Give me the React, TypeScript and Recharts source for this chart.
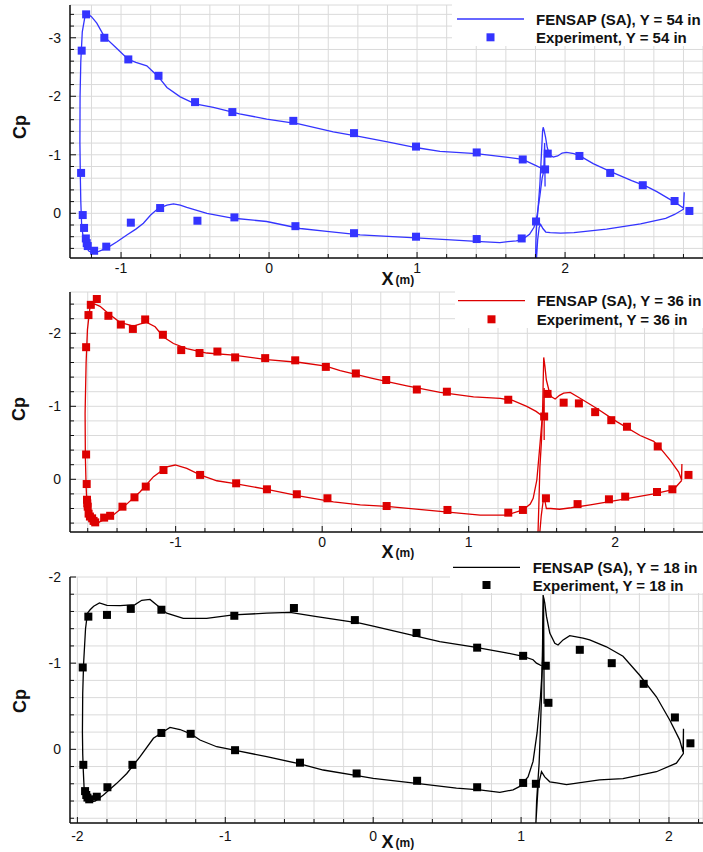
import React from 'react';
import { ComposedChart, Line, Scatter, XAxis, YAxis, CartesianGrid } from 'recharts';

type Pt = [number, number];

// ---------- Y = 54 in ----------
const cfd54Main: Pt[] = [
  [1.856, -0.72], [1.84, -0.77], [1.80, -0.82], [1.714, -0.92], [1.60, -0.96], [1.40, -1.02], [1.155, -1.06],
  [1.00, -1.12], [0.80, -1.22], [0.615, -1.31], [0.434, -1.39], [0.20, -1.53], [-0.016, -1.61], [-0.20, -1.70],
  [-0.376, -1.81], [-0.50, -1.87], [-0.60, -1.99], [-0.69, -2.15], [-0.747, -2.33], [-0.826, -2.52], [-0.90, -2.58],
  [-0.951, -2.63], [-1.03, -2.82], [-1.113, -3.02], [-1.164, -3.25], [-1.20, -3.36], [-1.228, -3.41], [-1.245, -3.35],
  [-1.262, -3.10], [-1.272, -2.60], [-1.277, -2.00], [-1.278, -1.20], [-1.275, -0.60], [-1.272, -0.20], [-1.266, 0.23],
  [-1.255, 0.42], [-1.243, 0.51], [-1.22, 0.64], [-1.198, 0.67], [-1.15, 0.65], [-1.094, 0.59], [-1.03, 0.49],
  [-0.961, 0.37], [-0.90, 0.27], [-0.849, 0.17], [-0.80, 0.03], [-0.75, -0.08], [-0.69, -0.14], [-0.646, -0.16],
  [-0.60, -0.14], [-0.556, -0.10], [-0.42, 0.0], [-0.24, 0.085], [-0.016, 0.14], [0.21, 0.26], [0.39, 0.31],
  [0.615, 0.37], [0.93, 0.41], [1.20, 0.45], [1.40, 0.48], [1.56, 0.50], [1.67, 0.47], [1.71, 0.45], [1.76, 0.36],
  [1.79, 0.24], [1.81, 0.05], [1.83, -0.30], [1.845, -0.60], [1.856, -0.72], [1.862, -1.20], [1.865, -0.46],
];
const cfd54Flap: Pt[] = [
  [1.80, 0.85], [1.803, 0.50], [1.808, 0.20], [1.815, 0.0], [1.83, -0.50], [1.842, -1.10], [1.848, -1.40],
  [1.852, -1.47], [1.858, -1.42], [1.868, -1.30], [1.88, -1.12], [1.895, -1.00], [1.92, -0.96], [1.95, -0.98],
  [1.98, -1.03], [2.01, -1.04], [2.06, -1.02], [2.10, -0.98], [2.19, -0.85], [2.30, -0.72], [2.45, -0.56],
  [2.55, -0.46], [2.62, -0.37], [2.70, -0.25], [2.76, -0.16], [2.80, -0.09], [2.805, -0.36], [2.80, -0.07],
  [2.74, 0.02], [2.68, 0.085], [2.51, 0.18], [2.28, 0.27], [2.06, 0.33], [1.97, 0.34], [1.90, 0.33], [1.87, 0.32],
  [1.85, 0.26], [1.835, 0.19], [1.825, 0.24], [1.815, 0.45], [1.805, 0.85],
];
const exp54: Pt[] = [
  [-1.236, -3.40], [-1.266, -2.78], [-1.113, -3.00], [-0.951, -2.63], [-0.747, -2.35], [-0.50, -1.90], [-0.248, -1.73],
  [0.164, -1.58], [0.574, -1.37], [0.993, -1.14], [1.403, -1.04], [1.714, -0.92], [1.865, -0.75], [1.883, -1.02],
  [2.097, -0.98], [2.305, -0.69], [2.525, -0.48], [2.74, -0.21], [2.84, -0.04],
  [-1.27, -0.69], [-1.259, 0.03], [-1.25, 0.25], [-1.238, 0.43], [-1.232, 0.51], [-1.225, 0.56], [-1.182, 0.64],
  [-1.10, 0.57], [-0.934, 0.16], [-0.736, -0.09], [-0.484, 0.127], [-0.234, 0.07], [0.178, 0.22], [0.574, 0.34],
  [0.993, 0.40], [1.403, 0.44], [1.707, 0.43], [1.804, 0.14],
];
const xTicks54 = [-1.2, -1, -0.8, -0.6, -0.4, -0.2, 0, 0.2, 0.4, 0.6, 0.8, 1, 1.2, 1.4, 1.6, 1.8, 2, 2.2, 2.4, 2.6, 2.8];
const yTicks54 = [-3.4, -3.2, -3, -2.8, -2.6, -2.4, -2.2, -2, -1.8, -1.6, -1.4, -1.2, -1, -0.8, -0.6, -0.4, -0.2, 0, 0.2, 0.4, 0.6];

// ---------- Y = 36 in ----------
const cfd36Main: Pt[] = [
  [1.50, -0.87], [1.46, -0.93], [1.396, -1.00], [1.30, -1.08], [1.215, -1.11], [1.033, -1.13], [0.805, -1.19],
  [0.578, -1.28], [0.35, -1.38], [0.123, -1.49], [0.025, -1.55], [-0.15, -1.60], [-0.377, -1.64], [-0.605, -1.70],
  [-0.788, -1.73], [-0.924, -1.79], [-1.015, -1.86], [-1.083, -1.95], [-1.14, -2.09], [-1.197, -2.15], [-1.24, -2.13],
  [-1.288, -2.10], [-1.38, -2.15], [-1.459, -2.27], [-1.516, -2.37], [-1.55, -2.40], [-1.584, -2.37], [-1.602, -2.05],
  [-1.611, -1.60], [-1.618, -0.90], [-1.616, -0.30], [-1.611, 0.10], [-1.605, 0.35], [-1.59, 0.50], [-1.575, 0.58],
  [-1.561, 0.62], [-1.54, 0.61], [-1.516, 0.58], [-1.425, 0.49], [-1.334, 0.34], [-1.242, 0.17], [-1.151, -0.036],
  [-1.06, -0.17], [-1.003, -0.196], [-0.924, -0.15], [-0.833, -0.06], [-0.719, 0.02], [-0.605, 0.055],
  [-0.377, 0.137], [-0.15, 0.23], [0.077, 0.31], [0.26, 0.35], [0.44, 0.37], [0.805, 0.44], [1.078, 0.49],
  [1.26, 0.49], [1.37, 0.42], [1.42, 0.34], [1.44, 0.26], [1.465, 0.01], [1.483, -0.40], [1.50, -0.80],
  [1.51, -0.86], [1.515, -1.25], [1.515, -0.54],
];
const cfd36Flap: Pt[] = [
  [1.472, 0.80], [1.478, 0.40], [1.486, -0.17], [1.497, -0.54], [1.505, -1.00], [1.508, -1.30], [1.512, -1.67],
  [1.52, -1.55], [1.53, -1.36], [1.55, -1.20], [1.565, -1.13], [1.59, -1.10], [1.62, -1.15], [1.648, -1.18],
  [1.693, -1.19], [1.76, -1.11], [1.875, -0.97], [2.01, -0.79], [2.17, -0.60], [2.263, -0.52], [2.31, -0.42],
  [2.376, -0.26], [2.433, -0.10], [2.453, 0.01], [2.455, -0.21], [2.452, 0.02], [2.40, 0.137], [2.263, 0.20],
  [2.03, 0.283], [1.83, 0.35], [1.70, 0.39], [1.62, 0.41], [1.56, 0.40], [1.53, 0.40], [1.518, 0.27],
  [1.508, 0.30], [1.495, 0.50], [1.48, 0.85],
];
const exp36: Pt[] = [
  [-1.538, -2.47], [-1.579, -2.39], [-1.595, -2.25], [-1.611, -1.81], [-1.459, -2.24], [-1.374, -2.12],
  [-1.292, -2.06], [-1.208, -2.19], [-1.087, -1.98], [-0.962, -1.77], [-0.837, -1.73], [-0.715, -1.75],
  [-0.594, -1.67], [-0.389, -1.66], [-0.184, -1.63], [0.025, -1.54], [0.23, -1.45], [0.437, -1.36], [0.646, -1.23],
  [0.851, -1.20], [1.27, -1.09], [1.515, -0.86], [1.538, -1.17], [1.648, -1.05], [1.752, -1.04], [1.863, -0.92],
  [1.973, -0.81], [2.08, -0.72], [2.29, -0.45], [2.50, -0.06],
  [-1.611, -0.34], [-1.607, 0.065], [-1.605, 0.28], [-1.603, 0.33], [-1.60, 0.375], [-1.594, 0.47], [-1.585, 0.51],
  [-1.57, 0.535], [-1.56, 0.57], [-1.549, 0.59], [-1.488, 0.525], [-1.447, 0.50], [-1.363, 0.375], [-1.281, 0.247],
  [-1.204, 0.10], [-1.083, -0.127], [-0.833, -0.06], [-0.587, 0.055], [-0.377, 0.137], [-0.173, 0.205],
  [0.036, 0.26], [0.44, 0.366], [0.855, 0.42], [1.27, 0.457], [1.37, 0.42], [1.527, 0.26], [1.743, 0.34],
  [1.957, 0.274], [2.068, 0.238], [2.285, 0.174], [2.39, 0.137],
];
const xTicks36 = [-1.6, -1.4, -1.2, -1, -0.8, -0.6, -0.4, -0.2, 0, 0.2, 0.4, 0.6, 0.8, 1, 1.2, 1.4, 1.6, 1.8, 2, 2.2, 2.4];
const yTicks36 = [-2.4, -2.2, -2, -1.8, -1.6, -1.4, -1.2, -1, -0.8, -0.6, -0.4, -0.2, 0, 0.2, 0.4, 0.6];

// ---------- Y = 18 in ----------
const cfd18Main: Pt[] = [
  [1.138, -0.97], [1.104, -1.00], [1.081, -1.04], [1.014, -1.08], [0.90, -1.12], [0.676, -1.19], [0.45, -1.25],
  [0.225, -1.34], [0.0, -1.43], [-0.09, -1.465], [-0.225, -1.50], [-0.382, -1.54], [-0.563, -1.59], [-0.72, -1.58],
  [-0.946, -1.56], [-1.126, -1.52], [-1.284, -1.52], [-1.396, -1.58], [-1.453, -1.66], [-1.509, -1.74],
  [-1.565, -1.73], [-1.61, -1.68], [-1.711, -1.667], [-1.80, -1.67], [-1.851, -1.70], [-1.89, -1.66],
  [-1.914, -1.62], [-1.932, -1.58], [-1.945, -1.40], [-1.958, -1.00], [-1.964, -0.65], [-1.966, -0.20],
  [-1.964, 0.05], [-1.96, 0.25], [-1.955, 0.435], [-1.941, 0.56], [-1.919, 0.61], [-1.88, 0.60], [-1.824, 0.53],
  [-1.734, 0.395], [-1.666, 0.28], [-1.576, 0.085], [-1.486, -0.128], [-1.432, -0.19], [-1.374, -0.255],
  [-1.306, -0.23], [-1.234, -0.18], [-1.171, -0.108], [-1.058, -0.03], [-0.94, 0.01], [-0.72, 0.085],
  [-0.495, 0.17], [-0.338, 0.24], [-0.09, 0.31], [0.0, 0.337], [0.293, 0.395], [0.563, 0.45], [0.72, 0.47],
  [0.856, 0.50], [0.946, 0.47], [0.991, 0.43], [1.047, 0.32], [1.081, 0.14], [1.108, -0.19], [1.131, -0.61],
  [1.145, -0.98], [1.152, -1.75], [1.156, -0.53],
];
const cfd18Flap: Pt[] = [
  [1.10, 0.86], [1.105, 0.60], [1.122, 0.16], [1.13, -0.20], [1.138, -0.61], [1.145, -1.19], [1.149, -1.79],
  [1.16, -1.70], [1.172, -1.54], [1.194, -1.35], [1.228, -1.23], [1.25, -1.21], [1.284, -1.27], [1.329, -1.32],
  [1.419, -1.29], [1.464, -1.27], [1.577, -1.19], [1.689, -1.08], [1.802, -0.86], [1.915, -0.61], [2.005, -0.34],
  [2.072, -0.11], [2.095, 0.03], [2.098, -0.24], [2.097, 0.05], [2.05, 0.16], [1.915, 0.26], [1.689, 0.34],
  [1.53, 0.355], [1.307, 0.41], [1.24, 0.39], [1.194, 0.377], [1.16, 0.32], [1.138, 0.26], [1.115, 0.43],
  [1.10, 0.86],
];
const exp18: Pt[] = [
  [-1.926, -1.54], [-1.964, -0.95], [-1.80, -1.56], [-1.639, -1.63], [-1.432, -1.62], [-0.939, -1.55],
  [-0.536, -1.64], [-0.124, -1.50], [0.293, -1.35], [0.703, -1.18], [1.014, -1.085], [1.167, -0.97],
  [1.185, -0.54], [1.397, -1.155], [1.613, -1.0], [1.829, -0.76], [2.04, -0.37], [2.145, -0.07],
  [-1.96, 0.18], [-1.948, 0.485], [-1.94, 0.53], [-1.932, 0.56], [-1.92, 0.58], [-1.869, 0.55], [-1.797, 0.44],
  [-1.628, 0.18], [-1.432, -0.19], [-1.234, -0.18], [-0.934, 0.01], [-0.495, 0.155], [-0.112, 0.28],
  [0.297, 0.365], [0.703, 0.44], [1.014, 0.39], [1.10, 0.40],
];
const xTicks18 = [-2, -1.8, -1.6, -1.4, -1.2, -1, -0.8, -0.6, -0.4, -0.2, 0, 0.2, 0.4, 0.6, 0.8, 1, 1.2, 1.4, 1.6, 1.8, 2, 2.2];
const yTicks18 = [-2, -1.8, -1.6, -1.4, -1.2, -1, -0.8, -0.6, -0.4, -0.2, 0, 0.2, 0.4, 0.6, 0.8];

const legendCfd = ['FENSAP (SA), Y = 54 in', 'FENSAP (SA), Y = 36 in', 'FENSAP (SA), Y = 18 in'];
const legendExp = ['Experiment, Y = 54 in', 'Experiment, Y = 36 in', 'Experiment, Y = 18 in'];

// ---------- helpers ----------
const rows = (pts: Pt[]) => pts.map(([x, cp]) => ({ x, cp }));
const isMajor = (v: number) => Math.abs(v - Math.round(v)) < 1e-6;
const fmt = (v: number) => (isMajor(v) ? String(Math.round(v) === 0 ? 0 : Math.round(v)) : '');

const AXIS = '#111';
const FONT = '"Liberation Sans", Arial, Helvetica, sans-serif';

const YTick = (props: any) => {
  const { x, y, payload } = props;
  const v = payload.value as number;
  const major = isMajor(v);
  return (
    <g>
      <line x1={x} x2={x + (major ? 6 : 4)} y1={y} y2={y} stroke={AXIS} strokeWidth={1} />
      {major ? (
        <text x={x - 9} y={y + 5} textAnchor="end" fontSize={14} fill="#111" fontFamily={FONT}>
          {fmt(v)}
        </text>
      ) : null}
    </g>
  );
};

const makeXTick = (labelOffset: number) => (props: any) => {
  const { x, y, payload } = props;
  const v = payload.value as number;
  const major = isMajor(v);
  return (
    <g>
      <line x1={x} x2={x} y1={y} y2={y - (major ? 6 : 4)} stroke={AXIS} strokeWidth={1} />
      {major ? (
        <text x={x} y={y + labelOffset} textAnchor="middle" fontSize={14} fill="#111" fontFamily={FONT}>
          {fmt(v)}
        </text>
      ) : null}
    </g>
  );
};

type PanelProps = {
  top: number;
  height: number;
  marginTop: number;
  plotHeight: number;
  xDomain: [number, number];
  yDomain: [number, number];
  xTicks: number[];
  yTicks: number[];
  main: Pt[];
  flap: Pt[];
  exp: Pt[];
  lineColor: string;
  markColor: string;
  labelOffset: number;
};

function Panel(p: PanelProps) {
  const xAxisHeight = p.height - p.marginTop - p.plotHeight;
  const mc = p.markColor;
  const XT = makeXTick(p.labelOffset);
  return (
    <div style={{ position: 'absolute', left: 0, top: p.top }}>
      <ComposedChart width={703} height={p.height} margin={{ top: p.marginTop, right: 0, bottom: 0, left: 0 }}>
        <CartesianGrid stroke="#dadada" strokeWidth={1} />
        <XAxis
          type="number"
          dataKey="x"
          domain={p.xDomain}
          ticks={p.xTicks}
          allowDataOverflow
          interval={0}
          height={xAxisHeight}
          tickSize={0}
          tickMargin={0}
          tickLine={false}
          axisLine={{ stroke: AXIS, strokeWidth: 1.5 }}
          tick={(props: any) => <XT {...props} />}
        />
        <YAxis
          type="number"
          dataKey="cp"
          reversed
          domain={p.yDomain}
          ticks={p.yTicks}
          allowDataOverflow
          interval={0}
          width={70}
          tickSize={0}
          tickMargin={0}
          tickLine={false}
          axisLine={{ stroke: AXIS, strokeWidth: 1.5 }}
          tick={(props: any) => <YTick {...props} />}
        />
        <Line data={rows(p.main)} dataKey="cp" type="linear" stroke={p.lineColor} strokeWidth={1.3} dot={false} activeDot={false} isAnimationActive={false} />
        <Line data={rows(p.flap)} dataKey="cp" type="linear" stroke={p.lineColor} strokeWidth={1.3} dot={false} activeDot={false} isAnimationActive={false} />
        <Scatter
          data={rows(p.exp)}
          fill={mc}
          isAnimationActive={false}
          shape={(s: any) => <rect x={s.cx - 4} y={s.cy - 4} width={8} height={8} fill={mc} />}
        />
      </ComposedChart>
    </div>
  );
}

const BLUE = '#3434ff';
const RED = '#dd0000';
const BLACK = '#000000';

function LegendBlock({ bx, by, bh, lx1, lx2, tx, r1, r2, color, i }: any) {
  return (
    <g>
      <rect x={bx} y={by} width={703 - bx} height={bh} fill="#fff" />
      <line x1={lx1} x2={lx2} y1={r1} y2={r1} stroke={color} strokeWidth={1.3} />
      <text x={tx} y={r1 + 5.5} fontSize={15} fontWeight="bold" fill="#111" fontFamily={FONT}>{legendCfd[i]}</text>
      <rect x={(lx1 + lx2) / 2 - 4} y={r2 - 4} width={8} height={8} fill={color} />
      <text x={tx} y={r2 + 5.5} fontSize={15} fontWeight="bold" fill="#111" fontFamily={FONT}>{legendExp[i]}</text>
    </g>
  );
}

function AxisTitles({ xb, cpx, cpy }: any) {
  return (
    <g fontFamily={FONT} fontWeight="bold" fill="#111">
      <text x={381.5} y={xb} fontSize={18}>X</text>
      <text x={395.5} y={xb - 1} fontSize={12}>(m)</text>
      <text x={cpx} y={cpy} fontSize={18} textAnchor="middle" dominantBaseline="central" transform={`rotate(-90 ${cpx} ${cpy})`}>Cp</text>
    </g>
  );
}

export default function App() {
  return (
    <div style={{ position: 'absolute', left: 0, top: 0, width: 703, height: 852, background: '#fff', fontFamily: FONT, overflow: 'hidden' }}>
      <Panel top={0} height={290} marginTop={5} plotHeight={253} xDomain={[-1.345, 2.932]} yDomain={[-3.56, 0.764]}
        xTicks={xTicks54} yTicks={yTicks54} main={cfd54Main} flap={cfd54Flap} exp={exp54} lineColor={BLUE} markColor={BLUE} labelOffset={15} />
      <Panel top={290} height={290} marginTop={2} plotHeight={240} xDomain={[-1.721, 2.599]} yDomain={[-2.566, 0.722]}
        xTicks={xTicks36} yTicks={yTicks36} main={cfd36Main} flap={cfd36Flap} exp={exp36} lineColor={RED} markColor={RED} labelOffset={15} />
      <Panel top={560} height={292} marginTop={17} plotHeight={246} xDomain={[-2.05, 2.23]} yDomain={[-2, 0.855]}
        xTicks={xTicks18} yTicks={yTicks18} main={cfd18Main} flap={cfd18Flap} exp={exp18} lineColor={BLACK} markColor={BLACK} labelOffset={18} />
      <svg width={703} height={852} style={{ position: 'absolute', left: 0, top: 0, pointerEvents: 'none' }}>
        <LegendBlock bx={452} by={0} bh={46} lx1={457} lx2={524} tx={536} r1={19} r2={37.3} color={BLUE} i={0} />
        <LegendBlock bx={455} by={291} bh={37} lx1={458} lx2={525} tx={536.7} r1={300.7} r2={319.3} color={RED} i={1} />
        <LegendBlock bx={450} by={556} bh={37} lx1={453} lx2={520} tx={532.7} r1={567.3} r2={585} color={BLACK} i={2} />
        <AxisTitles xb={285} cpx={20} cpy={127} />
        <AxisTitles xb={558} cpx={19} cpy={409} />
        <AxisTitles xb={848} cpx={20} cpy={701} />
      </svg>
    </div>
  );
}
